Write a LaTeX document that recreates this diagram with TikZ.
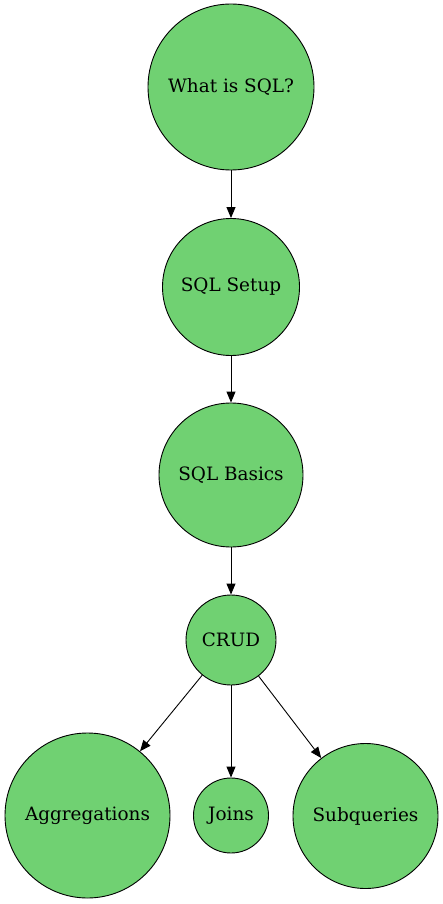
\documentclass[tikz,border=0pt]{standalone}
\usepackage{fontspec}
\setmainfont{DejaVu Serif}
\usetikzlibrary{arrows.meta}
\definecolor{topicgreen}{RGB}{112,209,114}

\begin{document}
\begin{tikzpicture}[x=1pt, y=-1pt, thick]
        \tikzstyle{topic} = [circle, draw, fill=topicgreen, line width=0.9pt, inner sep=0pt, font=\fontsize{18.4}{21}\selectfont]
        \tikzstyle{link} = [-{Triangle[length=11pt, width=9pt]}, line width=0.9pt]
        \useasboundingbox (0,0) rectangle (443,904);
        \node[topic, minimum size=166pt] (whatis) at (231,87) {What is SQL?};
        \node[topic, minimum size=137pt] (setup) at (231,287) {SQL Setup};
        \node[topic, minimum size=144pt] (basics) at (231,475) {SQL Basics};
        \node[topic, minimum size=90pt] (crud) at (231,640) {CRUD};
        \node[topic, minimum size=165pt] (aggr) at (87.5,815.5) {Aggregations};
        \node[topic, minimum size=75pt] (joins) at (231,815.5) {Joins};
        \node[topic, minimum size=145pt] (subq) at (365.5,816) {Subqueries};
        \draw[link] (whatis) -- (setup);
        \draw[link] (setup) -- (basics);
        \draw[link] (basics) -- (crud);
        \draw[link] (crud) -- (aggr);
        \draw[link] (crud) -- (joins);
        \draw[link] (crud) -- (subq);
    \end{tikzpicture}
\end{document}
